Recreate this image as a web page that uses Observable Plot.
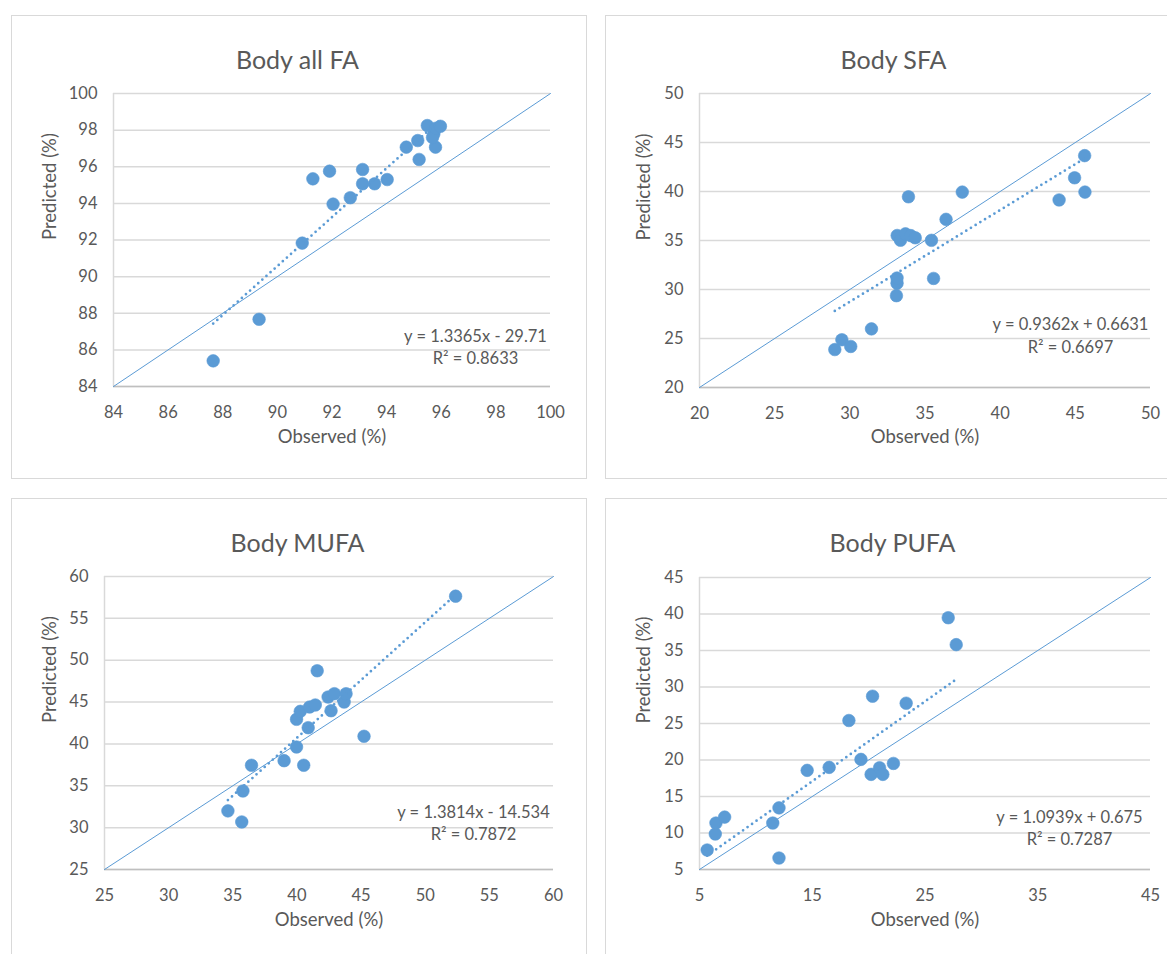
<!DOCTYPE html>
<html>
<head>
<meta charset="utf-8">
<script src="https://cdn.jsdelivr.net/npm/d3@7"></script>
<script src="https://cdn.jsdelivr.net/npm/@observablehq/plot@0.6"></script>
<style>
html,body{margin:0;padding:0;background:#fff;width:1167px;height:954px;overflow:hidden;}
.panel{position:absolute;}
.frame{position:absolute;left:0;top:0;box-sizing:border-box;border:1.5px solid #d9d9d9;}
.panel svg{position:absolute;left:0;top:0;overflow:visible;}
</style>
</head>
<body>
<script>
// ---------- Data ----------
const xLabel = "Observed (%)";
const yLabel = "Predicted (%)";

// Body all FA
const allFA_title = "Body all FA";
const allFA_obs  = [87.65, 89.33, 90.91, 91.30, 91.91, 92.04, 92.67, 93.12, 93.12, 93.56, 94.02, 94.72, 95.14, 95.19, 95.49, 95.79, 95.73, 95.68, 95.80, 95.97];
const allFA_pred = [85.40, 87.67, 91.83, 95.34, 95.76, 93.96, 94.31, 95.85, 95.07, 95.07, 95.30, 97.07, 97.43, 96.40, 98.25, 97.07, 97.80, 97.60, 98.10, 98.21];
const allFA_domain = [84, 100];
const allFA_xTicks = [84, 86, 88, 90, 92, 94, 96, 98, 100];
const allFA_yTicks = [84, 86, 88, 90, 92, 94, 96, 98, 100];
const allFA_fit = [1.3365, -29.71];
const allFA_eq = "y = 1.3365x - 29.71";
const allFA_r2 = "R\u00B2 = 0.8633";

// Body SFA
const sfa_title = "Body SFA";
const sfa_obs  = [29.00, 29.47, 30.06, 31.44, 33.10, 33.14, 33.14, 33.15, 33.37, 33.70, 34.05, 34.35, 33.90, 35.43, 35.57, 36.40, 37.48, 43.92, 44.95, 45.64, 45.62];
const sfa_pred = [23.87, 24.87, 24.19, 25.98, 29.37, 30.64, 31.17, 35.51, 35.03, 35.68, 35.50, 35.28, 39.46, 35.02, 31.13, 37.16, 39.94, 39.14, 41.40, 39.94, 43.66];
const sfa_domain = [20, 50];
const sfa_xTicks = [20, 25, 30, 35, 40, 45, 50];
const sfa_yTicks = [20, 25, 30, 35, 40, 45, 50];
const sfa_fit = [0.9362, 0.6631];
const sfa_eq = "y = 0.9362x + 0.6631";
const sfa_r2 = "R\u00B2 = 0.6697";

// Body MUFA
const mufa_title = "Body MUFA";
const mufa_obs  = [34.62, 35.70, 35.79, 36.46, 39.00, 39.97, 40.53, 39.97, 40.26, 40.88, 40.99, 41.43, 41.58, 42.43, 42.92, 42.66, 43.68, 43.83, 45.23, 52.37];
const mufa_pred = [32.00, 30.68, 34.38, 37.45, 38.00, 39.63, 37.45, 42.94, 43.89, 41.94, 44.41, 44.65, 48.74, 45.60, 46.00, 43.97, 45.00, 46.00, 40.91, 57.65];
const mufa_domain = [25, 60];
const mufa_xTicks = [25, 30, 35, 40, 45, 50, 55, 60];
const mufa_yTicks = [25, 30, 35, 40, 45, 50, 55, 60];
const mufa_fit = [1.3814, -14.534];
const mufa_eq = "y = 1.3814x - 14.534";
const mufa_r2 = "R\u00B2 = 0.7872";

// Body PUFA
const pufa_title = "Body PUFA";
const pufa_obs  = [5.68, 6.40, 6.46, 7.23, 11.50, 12.05, 12.05, 14.55, 16.50, 18.25, 19.32, 20.22, 20.35, 20.97, 21.26, 22.20, 23.33, 27.06, 27.77];
const pufa_pred = [7.67, 9.86, 11.36, 12.18, 11.36, 13.44, 6.57, 18.58, 18.99, 25.41, 20.08, 18.03, 28.74, 18.94, 18.03, 19.53, 27.78, 39.49, 35.80];
const pufa_domain = [5, 45];
const pufa_xTicks = [5, 15, 25, 35, 45];
const pufa_yTicks = [5, 10, 15, 20, 25, 30, 35, 40, 45];
const pufa_fit = [1.0939, 0.675];
const pufa_eq = "y = 1.0939x + 0.675";
const pufa_r2 = "R\u00B2 = 0.7287";

// ---------- Layout (page pixels) ----------
const layouts = [
  {left: 11,  top: 15,  w: 576, h: 464, fx0: 113, fx1: 550,  fy0: 93,  fy1: 386, tx: 297, ty: 51,  ylx: 50,    xly: 442.5, ex: 475,  ey1: 341, ey2: 363},
  {left: 605, top: 15,  w: 580, h: 464, fx0: 699, fx1: 1150, fy0: 93,  fy1: 387, tx: 893, ty: 51,  ylx: 643.5, xly: 442,   ex: 1070, ey1: 329, ey2: 352},
  {left: 11,  top: 498, w: 576, h: 470, fx0: 104, fx1: 553,  fy0: 576, fy1: 869, tx: 297, ty: 534, ylx: 50,    xly: 925,   ex: 473,  ey1: 817, ey2: 839},
  {left: 605, top: 498, w: 580, h: 470, fx0: 699, fx1: 1150, fy0: 577, fy1: 869, tx: 892, ty: 534, ylx: 643.5, xly: 925,   ex: 1069, ey1: 822, ey2: 844}
];

const panels = [
  {title: allFA_title, obs: allFA_obs, pred: allFA_pred, domain: allFA_domain, xTicks: allFA_xTicks, yTicks: allFA_yTicks, fit: allFA_fit, eq: allFA_eq, r2: allFA_r2},
  {title: sfa_title, obs: sfa_obs, pred: sfa_pred, domain: sfa_domain, xTicks: sfa_xTicks, yTicks: sfa_yTicks, fit: sfa_fit, eq: sfa_eq, r2: sfa_r2},
  {title: mufa_title, obs: mufa_obs, pred: mufa_pred, domain: mufa_domain, xTicks: mufa_xTicks, yTicks: mufa_yTicks, fit: mufa_fit, eq: mufa_eq, r2: mufa_r2},
  {title: pufa_title, obs: pufa_obs, pred: pufa_pred, domain: pufa_domain, xTicks: pufa_xTicks, yTicks: pufa_yTicks, fit: pufa_fit, eq: pufa_eq, r2: pufa_r2}
];

const FONT = "Lato, 'Open Sans', sans-serif";
const TXT = "#595959";
const BLUE = "#5b9bd5";

panels.forEach((p, i) => {
  const L = layouts[i];
  const ml = L.fx0 - L.left, mr = L.left + L.w - L.fx1;
  const mt = L.fy0 - L.top,  mb = L.top + L.h - L.fy1;
  const frameCX = (L.fx0 + L.fx1) / 2;
  const frameCY = (L.fy0 + L.fy1) / 2;

  const data = p.obs.map((o, k) => ({obs: o, pred: p.pred[k]}));
  const [lo, hi] = p.domain;
  const trend = [d3.min(p.obs), d3.max(p.obs)].map(x => ({x, y: p.fit[0] * x + p.fit[1]}));
  const diag = [lo, hi].map(v => ({x: v, y: v}));

  const chart = Plot.plot({
    width: L.w, height: L.h,
    marginLeft: ml, marginRight: mr, marginTop: mt, marginBottom: mb,
    style: {fontFamily: FONT, fontSize: "16.5px", color: TXT, background: "transparent", overflow: "visible"},
    x: {domain: p.domain, ticks: p.xTicks, tickSize: 0, tickPadding: 20, label: null, tickFormat: d => String(d)},
    y: {domain: p.domain, ticks: p.yTicks, tickSize: 0, tickPadding: 16, label: null, tickFormat: d => String(d)},
    marks: [
      Plot.ruleY(p.yTicks, {stroke: "#d9d9d9", strokeWidth: 1.5}),
      Plot.ruleX([lo], {stroke: "#d9d9d9", strokeWidth: 1.5}),
      Plot.ruleY([lo], {stroke: "#bfbfbf", strokeWidth: 1.5}),
      Plot.line(diag, {x: "x", y: "y", stroke: BLUE, strokeWidth: 1}),
      Plot.dot(data, {x: "obs", y: "pred", r: 6.3, fill: BLUE, stroke: BLUE, strokeWidth: 0.6}),
      Plot.line(trend, {x: "x", y: "y", stroke: BLUE, strokeWidth: 2.75, strokeDasharray: "0 5.5", strokeLinecap: "round"}),
      Plot.text([p.title], {text: d => d, frameAnchor: "top", dx: L.tx - frameCX, dy: L.ty - L.fy0, fontSize: 25, fill: TXT}),
      Plot.text([xLabel], {text: d => d, frameAnchor: "bottom", dy: L.xly - L.fy1, fontSize: 18.5, fill: TXT}),
      Plot.text([yLabel], {text: d => d, frameAnchor: "left", dx: L.ylx - L.fx0, rotate: -90, fontSize: 18.5, fill: TXT}),
      Plot.text([p.eq], {text: d => d, frameAnchor: "bottom-right", textAnchor: "middle", dx: L.ex - L.fx1, dy: L.ey1 - L.fy1, fontSize: 16.5, fill: TXT}),
      Plot.text([p.r2], {text: d => d, frameAnchor: "bottom-right", textAnchor: "middle", dx: L.ex - L.fx1, dy: L.ey2 - L.fy1, fontSize: 16.5, fill: TXT})
    ]
  });

  const div = document.createElement("div");
  div.className = "panel";
  div.style.left = L.left + "px";
  div.style.top = L.top + "px";
  div.style.width = L.w + "px";
  div.style.height = L.h + "px";
  const fr = document.createElement("div");
  fr.className = "frame";
  fr.style.width = L.w + "px";
  fr.style.height = L.h + "px";
  div.appendChild(fr);
  div.appendChild(chart);
  document.body.appendChild(div);
});
</script>
</body>
</html>
